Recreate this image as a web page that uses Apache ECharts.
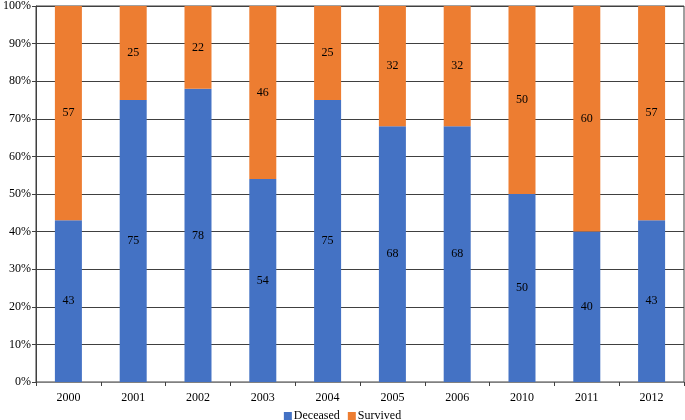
<!DOCTYPE html>
<html><head><meta charset="utf-8">
<script src="https://cdn.jsdelivr.net/npm/echarts@6/dist/echarts.min.js"></script>
<style>html,body{margin:0;padding:0;background:#fff}#c{width:685px;height:420px}</style>
</head><body><div id="c"></div>
<script>
const categories = ['2000','2001','2002','2003','2004','2005','2006','2010','2011','2012'];
const deceased = [43,75,78,54,75,68,68,50,40,43];
const survived = [57,25,22,46,25,32,32,50,60,57];
const yTicks = [0,10,20,30,40,50,60,70,80,90,100];

const font = '"Liberation Serif","Times New Roman",serif';
const chart = echarts.init(document.getElementById('c'));
const lbl = {show:true, position:'inside', color:'#000', fontFamily:font, fontSize:12};
chart.setOption({
  animation:false,
  grid:{left:34, right:1, top:4, bottom:38, show:true, borderColor:'#404040', borderWidth:1},
  legend:{top:405, left:'center', itemWidth:8, itemHeight:8, itemGap:8, icon:'rect',
    textStyle:{fontFamily:font, fontSize:12, color:'#000', padding:[0,0,0,-3]},
    data:['Deceased','Survived']},
  xAxis:{type:'category', data:categories,
    axisLine:{lineStyle:{color:'#808080', width:1}},
    axisTick:{show:true, alignWithLabel:false, length:4, lineStyle:{color:'#404040'}},
    axisLabel:{fontFamily:font, fontSize:12, color:'#000', margin:10}},
  yAxis:{type:'value', min:yTicks[0], max:yTicks[yTicks.length-1], interval:10,
    axisLine:{show:true, lineStyle:{color:'#404040'}},
    axisTick:{show:true, length:4, lineStyle:{color:'#404040'}},
    splitLine:{lineStyle:{color:'#404040', width:1}},
    axisLabel:{fontFamily:font, fontSize:12, color:'#000', margin:5, formatter:v=>v+'%'}},
  series:[
    {name:'Deceased', type:'bar', stack:'s', data:deceased, barWidth:27,
      itemStyle:{color:'#4472C4'}, label:lbl},
    {name:'Survived', type:'bar', stack:'s', data:survived, barWidth:27,
      itemStyle:{color:'#ED7D31'}, label:lbl}
  ]
});
</script></body></html>
